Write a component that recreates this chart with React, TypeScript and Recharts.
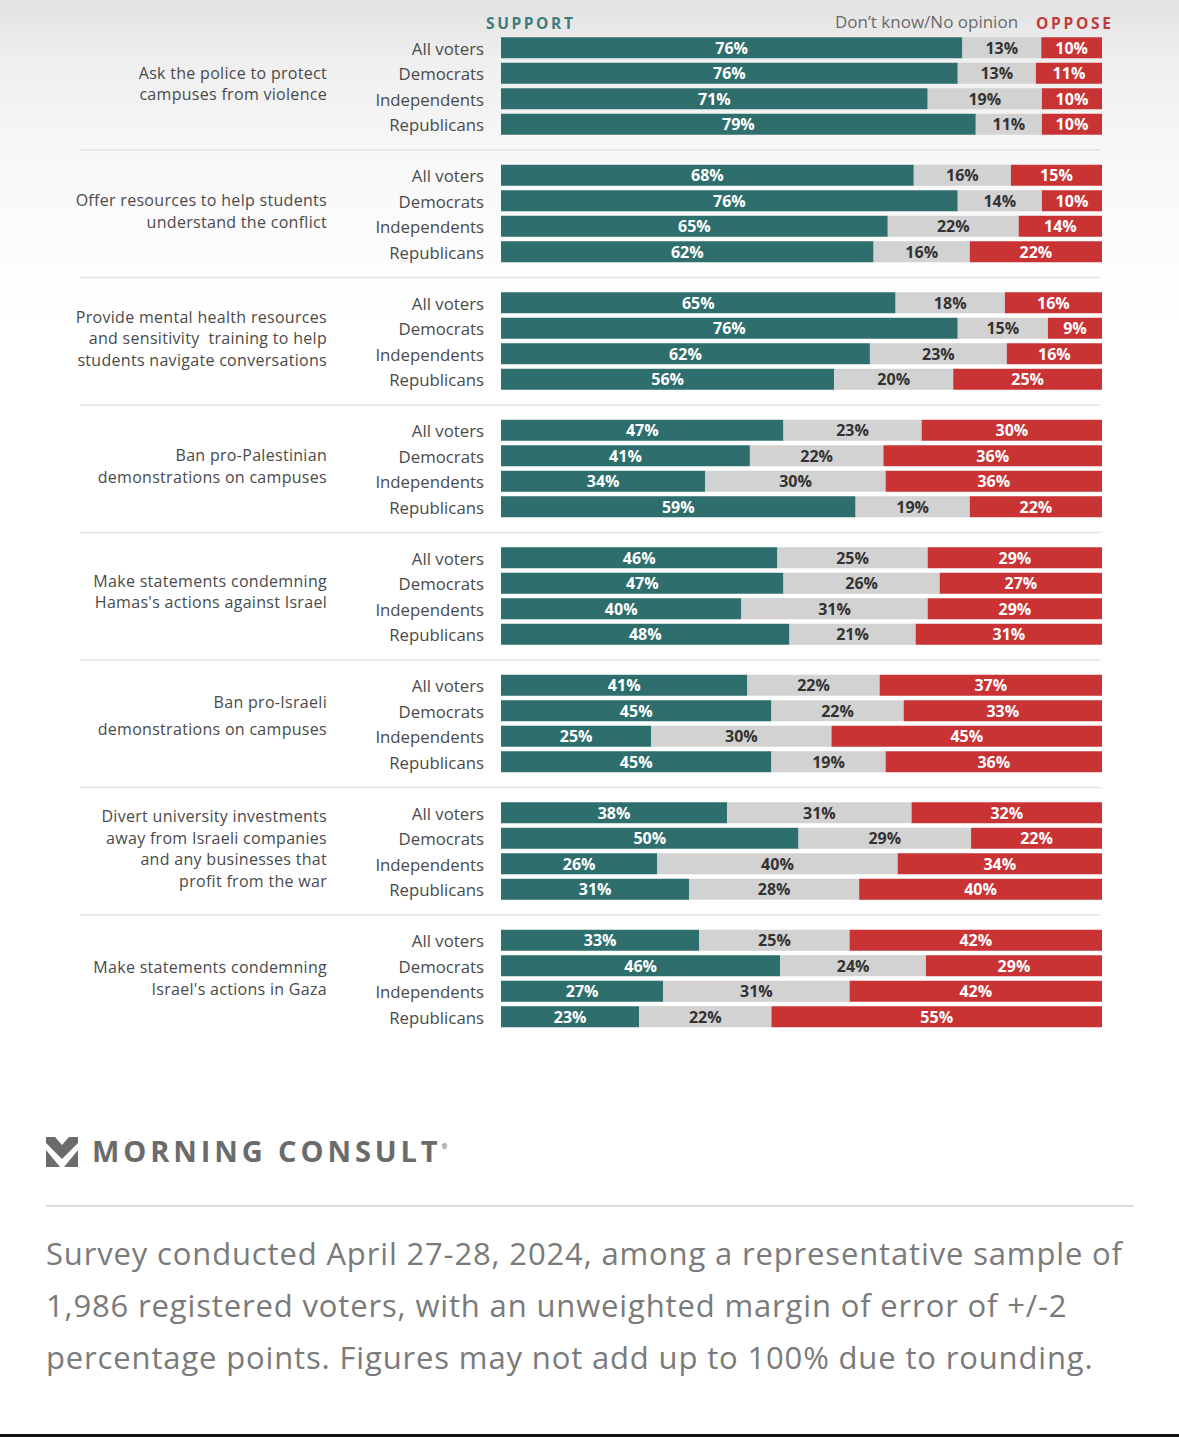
import React from 'react';
import { BarChart, Bar, XAxis, YAxis, LabelList } from 'recharts';

const questions: string[][] = [
  ['Ask the police to protect', 'campuses from violence'],
  ['Offer resources to help students', 'understand the conflict'],
  ['Provide mental health resources', 'and sensitivity  training to help', 'students navigate conversations'],
  ['Ban pro-Palestinian', 'demonstrations on campuses'],
  ['Make statements condemning', "Hamas's actions against Israel"],
  ['Ban pro-Israeli', 'demonstrations on campuses'],
  ['Divert university investments', 'away from Israeli companies', 'and any businesses that', 'profit from the war'],
  ['Make statements condemning', "Israel's actions in Gaza"],
];

const segments = ['All voters', 'Democrats', 'Independents', 'Republicans'];

const support = [
  [76, 76, 71, 79],
  [68, 76, 65, 62],
  [65, 76, 62, 56],
  [47, 41, 34, 59],
  [46, 47, 40, 48],
  [41, 45, 25, 45],
  [38, 50, 26, 31],
  [33, 46, 27, 23],
];

const noOpinion = [
  [13, 13, 19, 11],
  [16, 14, 22, 16],
  [18, 15, 23, 20],
  [23, 22, 30, 19],
  [25, 26, 31, 21],
  [22, 22, 30, 19],
  [31, 29, 40, 28],
  [25, 24, 31, 22],
];

const oppose = [
  [10, 11, 10, 10],
  [15, 10, 14, 22],
  [16, 9, 16, 25],
  [30, 36, 36, 22],
  [29, 27, 29, 31],
  [37, 33, 45, 36],
  [32, 22, 34, 40],
  [42, 29, 42, 55],
];

const TEAL = '#2e6f6e';
const GREY = '#d2d2d2';
const RED = '#c93334';
const FONT = '"Open Sans", sans-serif';
const TEXT = '#4a4a4a';

// line spacing / vertical nudge of the question text, per group
const questionLineGap = [21.5, 21.5, 21.5, 21.5, 21.5, 27, 21.5, 21.5];
const questionNudge = [-3, -3, -3, -3, -5, -8, -3, -1];

type Row = {
  key: string;
  spacer?: boolean;
  group: number;
  row: number;
  segment?: string;
  support?: number | null;
  noOpinion?: number | null;
  oppose?: number | null;
};

const rows: Row[] = [];
questions.forEach((_, g) => {
  segments.forEach((segment, r) => {
    rows.push({
      key: `g${g}r${r}`,
      group: g,
      row: r,
      segment,
      support: support[g][r],
      noOpinion: noOpinion[g][r],
      oppose: oppose[g][r],
    });
  });
  if (g < questions.length - 1) {
    rows.push({ key: `gap${g}`, spacer: true, group: g, row: 4, support: null, noOpinion: null, oppose: null });
  }
});

const rowByKey: Record<string, Row> = {};
rows.forEach((r) => (rowByKey[r.key] = r));

const RowTick = (props: any) => {
  const { x, y, payload } = props;
  const row = rowByKey[payload.value];
  if (!row) return null;
  if (row.spacer) {
    return <line x1={x - 404} x2={x + 616} y1={y} y2={y} stroke="#e3e3e3" strokeWidth={1.5} />;
  }
  const lines = questions[row.group];
  const gap = questionLineGap[row.group];
  const center = y + 12.75 + questionNudge[row.group];
  return (
    <g>
      <text x={x} y={y} textAnchor="end" dominantBaseline="central" fill={TEXT} fontSize={16.8} fontFamily={FONT}>
        {row.segment}
      </text>
      {row.row === 1 &&
        lines.map((line, i) => (
          <text
            key={i}
            x={x - 157}
            y={center - ((lines.length - 1) * gap) / 2 + i * gap}
            textAnchor="end"
            dominantBaseline="central"
            fill={TEXT}
            fontSize={16}
            letterSpacing={0.3}
            fontFamily={FONT}
            style={{ whiteSpace: 'pre' }}
          >
            {line}
          </text>
        ))}
    </g>
  );
};

const makeLabel = (color: string) => (props: any) => {
  const { x, y, width, height, value } = props;
  if (value == null || !width) return null;
  return (
    <text
      x={x + width / 2}
      y={y + height / 2}
      textAnchor="middle"
      dominantBaseline="central"
      fill={color}
      fontSize={16}
      fontWeight={700}
      fontFamily={FONT}
    >
      {`${value}%`}
    </text>
  );
};

const Logo = () => (
  <svg width={32} height={30} viewBox="0 0 32 30" style={{ position: 'absolute', left: 46, top: 1137 }}>
    <polygon points="0,0 9,0 16,8 23,0 32,0 32,6 16,22 0,6" fill="#6b6b6b" />
    <polygon points="0,13 0,30 14,30" fill="#6b6b6b" />
    <polygon points="32,13 32,30 18,30" fill="#6b6b6b" />
  </svg>
);

export default function App() {
  return (
    <div
      style={{
        position: 'absolute',
        left: 0,
        top: 0,
        width: 1179,
        height: 1437,
        overflow: 'hidden',
        fontFamily: FONT,
        background:
          'linear-gradient(180deg, #e2e2e2 0px, #efefef 60px, #f8f8f8 160px, #ffffff 320px, #ffffff 100%)',
      }}
    >
      <div style={{ position: 'absolute', left: 486, top: 13, lineHeight: '20px', fontSize: 15.5, fontWeight: 700, letterSpacing: 2.6, color: '#3d7c7b' }}>
        SUPPORT
      </div>
      <div style={{ position: 'absolute', left: 835, top: 12, lineHeight: '20px', fontSize: 17, color: '#6b6b6b' }}>
        Don’t know/No opinion
      </div>
      <div style={{ position: 'absolute', left: 1036, top: 13, lineHeight: '20px', fontSize: 15.5, fontWeight: 700, letterSpacing: 2.7, color: '#c23a3c' }}>
        OPPOSE
      </div>

      <div style={{ position: 'absolute', left: 0, top: 0 }}>
        <BarChart
          width={1179}
          height={1060}
          data={rows}
          layout="vertical"
          stackOffset="expand"
          barSize={21}
          margin={{ top: 35.25, right: 77, bottom: 30.25, left: 0 }}
        >
          <XAxis type="number" domain={[0, 1]} hide />
          <YAxis
            type="category"
            dataKey="key"
            width={501}
            tickLine={false}
            axisLine={false}
            tickSize={0}
            tickMargin={17}
            interval={0}
            tick={<RowTick />}
          />
          <Bar dataKey="support" stackId="a" fill={TEAL} isAnimationActive={false}>
            <LabelList dataKey="support" content={makeLabel('#ffffff')} />
          </Bar>
          <Bar dataKey="noOpinion" stackId="a" fill={GREY} isAnimationActive={false}>
            <LabelList dataKey="noOpinion" content={makeLabel('#333333')} />
          </Bar>
          <Bar dataKey="oppose" stackId="a" fill={RED} isAnimationActive={false}>
            <LabelList dataKey="oppose" content={makeLabel('#ffffff')} />
          </Bar>
        </BarChart>
      </div>

      <Logo />
      <div
        style={{
          position: 'absolute',
          left: 92,
          top: 1133,
          lineHeight: '36px',
          fontSize: 29,
          fontWeight: 700,
          letterSpacing: 3.9,
          color: '#6b6b6b',
        }}
      >
        MORNING CONSULT
        <span style={{ fontSize: 7, verticalAlign: 'top', letterSpacing: 0, position: 'relative', top: -4 }}>®</span>
      </div>
      <div style={{ position: 'absolute', left: 46, top: 1205, width: 1088, height: 2, background: '#dddddd' }} />
      <div
        style={{
          position: 'absolute',
          left: 46,
          top: 1227,
          width: 1130,
          fontSize: 31,
          letterSpacing: 0.85,
          lineHeight: '52px',
          whiteSpace: 'nowrap',
          color: '#7a7a7a',
        }}
      >
        Survey conducted April 27-28, 2024, among a representative sample of
        <br />
        1,986 registered voters, with an unweighted margin of error of +/-2
        <br />
        percentage points. Figures may not add up to 100% due to rounding.
      </div>
      <div style={{ position: 'absolute', left: 0, top: 1434, width: 1179, height: 3, background: '#111111' }} />
    </div>
  );
}
